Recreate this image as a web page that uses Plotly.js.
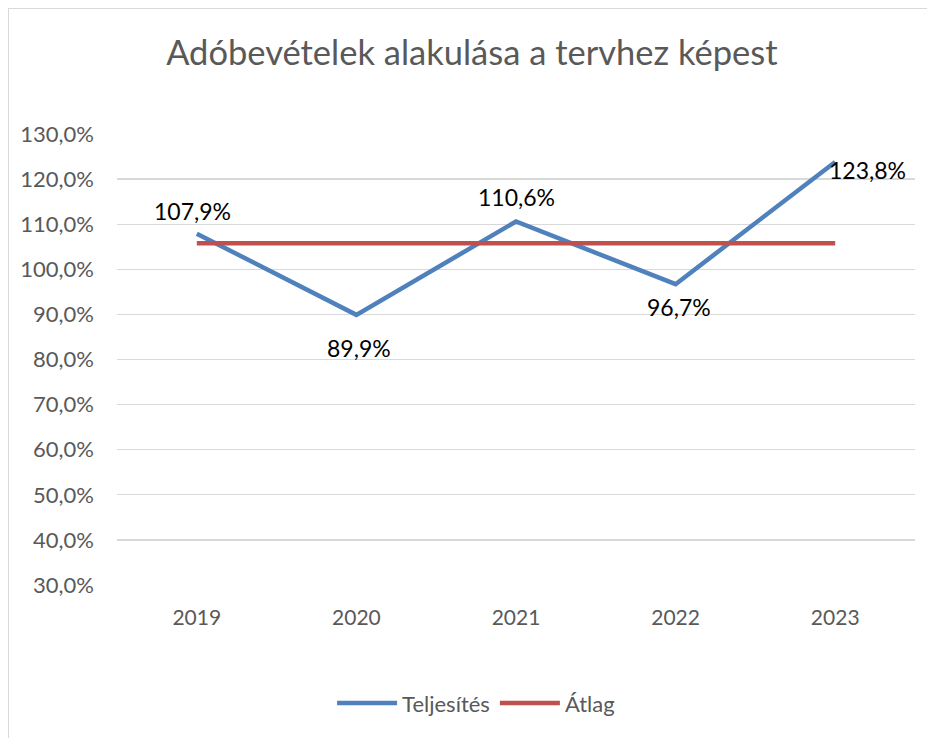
<!DOCTYPE html>
<html>
<head>
<meta charset="utf-8">
<script src="https://cdn.plot.ly/plotly-3.0.1.min.js"></script>
<style>
html,body{margin:0;padding:0;background:#fff;}
#wrap{position:relative;width:927px;height:738px;overflow:hidden;}
#frame{position:absolute;left:8px;top:8px;width:940px;height:760px;border-left:1px solid #d9d9d9;border-top:1px solid #d9d9d9;pointer-events:none;}
#chart{position:absolute;left:0;top:0;width:927px;height:738px;}
#err{position:absolute;left:20px;top:650px;color:red;font:12px sans-serif;}
</style>
</head>
<body>
<div id="wrap"><div id="chart"></div><div id="frame"></div><div id="err"></div></div>
<script>
const years = ['2019','2020','2021','2022','2023'];
const teljesites = [107.9, 89.9, 110.6, 96.7, 123.8];
const atlag = [105.8, 105.8, 105.8, 105.8, 105.8];
const yTicks = [30,40,50,60,70,80,90,100,110,120,130];
// label offsets (px) for data labels: [xshift, yshift]
const labelShift = [[-4, 23], [3, -33], [0, 24], [3, -23], [-8, -8]];
const labelAnchor = ['center', 'center', 'center', 'center', 'left'];

const fmt = v => v.toFixed(1).replace('.', ',') + '%';
const FONT = 'Lato, "Open Sans", sans-serif';

try {
const traces = [
  {
    x: years, y: teljesites, name: 'Teljesítés', type: 'scatter', mode: 'lines',
    line: {color: '#4f81bd', width: 4.5}, hoverinfo: 'skip'
  },
  {
    x: years, y: atlag, name: 'Átlag', type: 'scatter', mode: 'lines',
    line: {color: '#c0504d', width: 4.5}, hoverinfo: 'skip'
  }
];

const annotations = teljesites.map((v, i) => ({
  x: i, y: v, xref: 'x', yref: 'y', text: fmt(v), showarrow: false,
  xanchor: labelAnchor[i], yanchor: 'middle',
  xshift: labelShift[i][0], yshift: labelShift[i][1],
  font: {family: FONT, size: 23, color: '#000000'}
}));

const layout = {
  width: 927, height: 738,
  margin: {l: 117, r: 12, t: 134, b: 153},
  paper_bgcolor: '#ffffff', plot_bgcolor: '#ffffff',
  font: {family: FONT, color: '#595959', size: 18},
  title: {text: 'Adóbevételek alakulása a tervhez képest', font: {family: FONT, size: 34.5, color: '#595959'},
          x: 0.509, xref: 'container', xanchor: 'center', y: 0.928, yref: 'container', yanchor: 'middle'},
  xaxis: {type: 'category', range: [-0.5, 4.5], showgrid: false, zeroline: false, showline: false,
          ticks: '', tickfont: {family: FONT, size: 21, color: '#595959'}, ticklabelstandoff: 18, fixedrange: true},
  yaxis: {range: [30, 130], tickvals: yTicks, ticktext: yTicks.map(fmt), showgrid: true, gridcolor: '#d9d9d9', gridwidth: 1.3,
          zeroline: false, showline: false, ticks: '', tickfont: {family: FONT, size: 22, color: '#595959'},
          ticklabelstandoff: 22, fixedrange: true},
  annotations: annotations,
  showlegend: true,
  legend: {orientation: 'h', x: 0.45, xanchor: 'center', y: -0.262, yanchor: 'middle',
           font: {family: FONT, size: 22, color: '#595959'}, tracegroupgap: 0, itemwidth: 60},
  hovermode: false
};

Plotly.newPlot('chart', traces, layout, {displayModeBar: false, staticPlot: true}).catch(e => {
  document.getElementById('err').textContent = String(e);
});
} catch (e) {
  document.getElementById('err').textContent = String(e);
}
</script>
</body>
</html>
